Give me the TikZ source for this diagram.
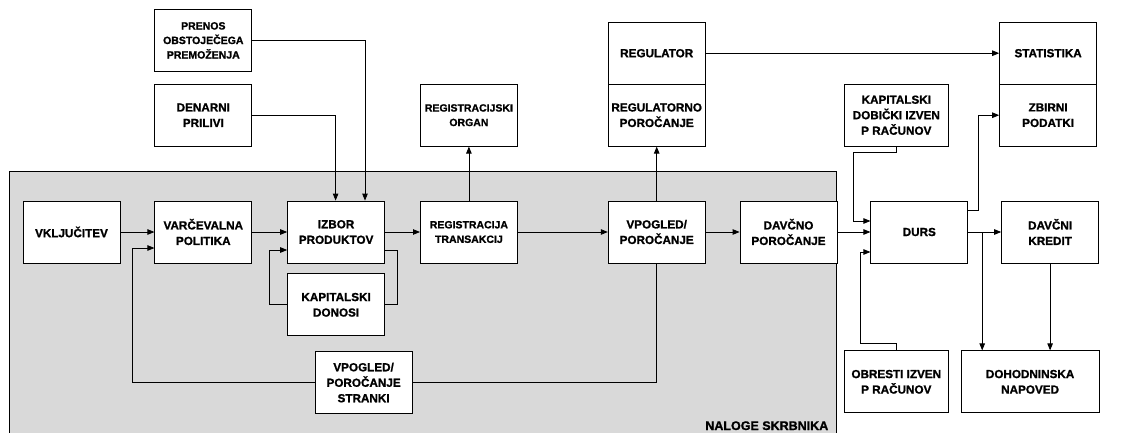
\documentclass[tikz,border=0pt]{standalone}
\usepackage{fontspec}
\setsansfont{Liberation Sans}[BoldFont={Liberation Sans Bold}, BoldFeatures={FakeBold=1.2}]
\usepackage{tikz}
\usetikzlibrary{shapes,arrows,positioning,arrows.meta}
\usepackage{xcolor}
\definecolor{skrbnik}{RGB}{217,217,217}

\begin{document}
\begin{tikzpicture}[x=1pt, y=1pt, node distance=34pt, auto, >={Triangle[length=7pt,width=5.5pt]}, line width=0.8pt]

% Styles for boxes
\tikzstyle{box} = [rectangle, draw, fill=white, align=center, minimum width=97pt, minimum height=62pt, inner sep=2pt, font=\sffamily\bfseries\fontsize{11.7}{15.5}\selectfont]
\tikzstyle{smallbox} = [box, font=\sffamily\bfseries\fontsize{10.5}{14.5}\selectfont]

\useasboundingbox (0,0) rectangle (1148,-433);

% Area of the custodian
\draw[fill=skrbnik] (9,-171) rectangle (836,-450);
\node [anchor=base east, font=\sffamily\bfseries\fontsize{12.5}{14}\selectfont] (naloge) at (832,-430) {NALOGE SKRBNIKA};

% Nodes
\node [box] (vklj) at (71.5,-232) {VKLJUČITEV};
\node [box, right=of vklj] (varc) {VARČEVALNA\\POLITIKA};
\node [box, right=35pt of varc] (izbor) {IZBOR\\PRODUKTOV};
\node [smallbox, right=35pt of izbor] (regtr) {REGISTRACIJA\\TRANSAKCIJ};
\node [box, right=90pt of regtr] (vpogled) {VPOGLED/\\POROČANJE};
\node [box, right=of vpogled] (davcno) {DAVČNO\\POROČANJE};
\node [box, right=33pt of davcno] (durs) {DURS};
\node [box, right=33pt of durs] (kredit) {DAVČNI\\KREDIT};

\node [box, below=10pt of izbor] (kapdon) {KAPITALSKI\\DONOSI};
\node [box, below=15pt of kapdon, xshift=27.5pt] (stranki) {VPOGLED/\\POROČANJE\\STRANKI};

\node [box, above=54pt of varc] (denarni) {DENARNI\\PRILIVI};
\node [smallbox, above=12pt of denarni] (prenos) {PRENOS\\OBSTOJEČEGA\\PREMOŽENJA};
\node [smallbox, above=54pt of regtr] (regorgan) {REGISTRACIJSKI\\ORGAN};

\node [box, above=54pt of vpogled] (regpor) {REGULATORNO\\POROČANJE};
\node [box, above=-0.8pt of regpor] (regulator) {REGULATOR};
\node [box, above=54pt of kredit, xshift=-2pt] (zbirni) {ZBIRNI\\PODATKI};
\node [box, above=-0.8pt of zbirni] (statistika) {STATISTIKA};

\node [box, minimum width=104pt, above=54pt of durs, xshift=-23pt] (kapdob) {KAPITALSKI\\DOBIČKI IZVEN\\P RAČUNOV};
\node [box, minimum width=104pt, below=87pt of durs, xshift=-23pt] (obresti) {OBRESTI IZVEN\\P RAČUNOV};
\node [box, minimum width=138pt, below=87pt of kredit, xshift=-20pt] (dohod) {DOHODNINSKA\\NAPOVED};

% Edges
\draw[->] (vklj) -- (varc);
\draw[->] (varc) -- (izbor);
\draw[->] (izbor) -- (regtr);
\draw[->] (regtr) -- (vpogled);
\draw[->] (vpogled) -- (davcno);
\draw[->] (davcno) -- (durs);
\draw[->] (durs) -- (kredit);
\draw[->] (regtr) -- (regorgan);
\draw[->] (vpogled) -- (regpor);
\draw[->] (regulator) -- (statistika);
\draw[->] (denarni) -| ([xshift=-0.5pt]izbor.north);
\draw[->] (prenos) -| ([xshift=-20pt]izbor.north east);

% Loop over capital returns
\draw ([yshift=-18pt]izbor.east) -- ++(12pt,0) |- (kapdon.east);
\draw[->] (kapdon.west) -| ([xshift=-18pt,yshift=-18pt]izbor.west) -- ([yshift=-18pt]izbor.west);

% Client reporting loop
\draw (vpogled.south) |- (stranki.east);
\draw[->] (stranki.west) -| ([xshift=-22pt,yshift=-16pt]varc.west) -- ([yshift=-16pt]varc.west);

% Tax office
\draw[->] (kapdob.south) -- ++(0,-6pt) -| ([xshift=-17pt,yshift=11pt]durs.west) -- ([yshift=11pt]durs.west);
\draw[->] (obresti.north) -- ++(0,7pt) -| ([xshift=-10pt,yshift=-20pt]durs.west) -- ([yshift=-20pt]durs.west);
\draw[->] ([yshift=22pt]durs.east) -- ++(10pt,0) |- (zbirni.west);
\draw[->] ([xshift=14pt]durs.east) -- ([xshift=14pt]durs.east |- dohod.north);
\draw[->] (kredit.south) -- (kredit.south |- dohod.north);

\end{tikzpicture}
\end{document}
